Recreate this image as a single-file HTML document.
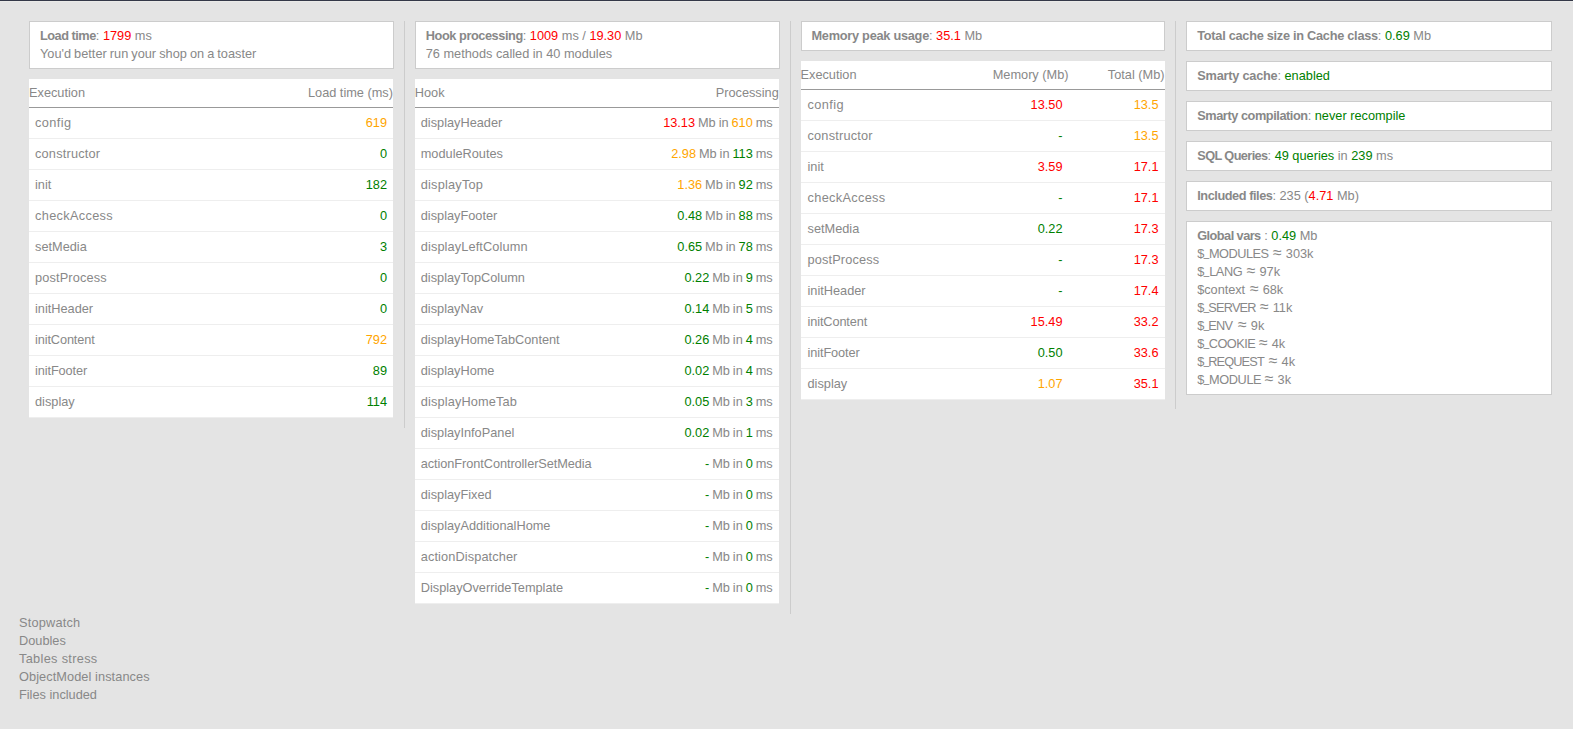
<!DOCTYPE html>
<html><head><meta charset="utf-8">
<style>
html,body{margin:0;padding:0}
body{background:#e4e4e4;width:1573px;height:729px;overflow:hidden;font-family:"Liberation Sans",sans-serif;font-size:12.75px;line-height:18px;color:#888;position:relative}
.t0{position:absolute;left:0;top:0;width:1573px;height:1px;background:#343848}
.t1{position:absolute;left:0;top:1px;width:1573px;height:1px;background:#eaeae8}
#prof{position:absolute;left:19px;top:21px;width:1543px}
.col{float:left;width:25%;padding:0 10px;border-right:1px solid #ccc;box-sizing:border-box}
.col.last{border-right:none}
.box{background:#fff;border:1px solid #ccc;padding:5px 10px;margin-bottom:10px}
table{width:364px;border-collapse:collapse;border-spacing:0;background:#fff;margin-bottom:10px}
th{font-weight:normal;padding:5px 0;border-bottom:1px solid #999;text-align:left;white-space:nowrap}
td{padding:6px 6px;border-bottom:1px solid #eee;white-space:nowrap}
.r{text-align:right}
.ap{font-size:16px;line-height:0;display:inline-block;width:12.8px}
.nm{display:inline-block;white-space:nowrap}
.u{display:inline-block;transform:scaleX(.76);position:relative;top:-2px;margin:0 -0.8px}
.c3 table{margin-bottom:9px}
.c3 td:first-child{padding-left:7px}
.c2 td.r{word-spacing:-0.6px}
.rd{color:#f00}.g{color:#008000}.o{color:#ffa500}
b{font-weight:bold}
ol{list-style:none;margin:0;padding:0;clear:both}
</style></head><body>
<div class="t0"></div><div class="t1"></div>
<div id="prof">
<div class="col">
<div class="box"><b style="letter-spacing:-0.49px">Load time</b>: <span class="rd">1799</span> ms<br><span style="word-spacing:-0.47px">You'd better run your shop on a toaster</span></div>
<table>
<tr><th>Execution</th><th class="r">Load time (ms)</th></tr>
<tr><td><span style="letter-spacing:0.4px">config</span></td><td class="r o">619</td></tr>
<tr><td><span style="letter-spacing:0.2px">constructor</span></td><td class="r g">0</td></tr>
<tr><td>init</td><td class="r g">182</td></tr>
<tr><td><span style="letter-spacing:0.33px">checkAccess</span></td><td class="r g">0</td></tr>
<tr><td>setMedia</td><td class="r g">3</td></tr>
<tr><td><span style="letter-spacing:0.15px">postProcess</span></td><td class="r g">0</td></tr>
<tr><td>initHeader</td><td class="r g">0</td></tr>
<tr><td><span style="letter-spacing:-0.12px">initContent</span></td><td class="r o">792</td></tr>
<tr><td><span style="letter-spacing:-0.1px">initFooter</span></td><td class="r g">89</td></tr>
<tr><td>display</td><td class="r g">114</td></tr>
</table>
</div>
<div class="col c2">
<div class="box"><b style="letter-spacing:-0.43px">Hook processing</b>: <span class="rd">1009</span> ms / <span class="rd">19.30</span> Mb<br>76 methods called in 40 modules</div>
<table>
<tr><th>Hook</th><th class="r">Processing</th></tr>
<tr><td>displayHeader</td><td class="r"><span class="rd">13.13</span> Mb in <span class="o">610</span> ms</td></tr>
<tr><td>moduleRoutes</td><td class="r"><span class="o">2.98</span> Mb in <span class="g">113</span> ms</td></tr>
<tr><td><span style="letter-spacing:0.21px">displayTop</span></td><td class="r"><span class="o">1.36</span> Mb in <span class="g">92</span> ms</td></tr>
<tr><td>displayFooter</td><td class="r"><span class="g">0.48</span> Mb in <span class="g">88</span> ms</td></tr>
<tr><td><span style="letter-spacing:0.12px">displayLeftColumn</span></td><td class="r"><span class="g">0.65</span> Mb in <span class="g">78</span> ms</td></tr>
<tr><td>displayTopColumn</td><td class="r"><span class="g">0.22</span> Mb in <span class="g">9</span> ms</td></tr>
<tr><td>displayNav</td><td class="r"><span class="g">0.14</span> Mb in <span class="g">5</span> ms</td></tr>
<tr><td>displayHomeTabContent</td><td class="r"><span class="g">0.26</span> Mb in <span class="g">4</span> ms</td></tr>
<tr><td>displayHome</td><td class="r"><span class="g">0.02</span> Mb in <span class="g">4</span> ms</td></tr>
<tr><td><span style="letter-spacing:0.14px">displayHomeTab</span></td><td class="r"><span class="g">0.05</span> Mb in <span class="g">3</span> ms</td></tr>
<tr><td>displayInfoPanel</td><td class="r"><span class="g">0.02</span> Mb in <span class="g">1</span> ms</td></tr>
<tr><td><span style="letter-spacing:-0.07px">actionFrontControllerSetMedia</span></td><td class="r"><span class="g">-</span> Mb in <span class="g">0</span> ms</td></tr>
<tr><td>displayFixed</td><td class="r"><span class="g">-</span> Mb in <span class="g">0</span> ms</td></tr>
<tr><td>displayAdditionalHome</td><td class="r"><span class="g">-</span> Mb in <span class="g">0</span> ms</td></tr>
<tr><td><span style="letter-spacing:0.11px">actionDispatcher</span></td><td class="r"><span class="g">-</span> Mb in <span class="g">0</span> ms</td></tr>
<tr><td>DisplayOverrideTemplate</td><td class="r"><span class="g">-</span> Mb in <span class="g">0</span> ms</td></tr>
</table>
</div>
<div class="col c3">
<div class="box"><b style="letter-spacing:-0.26px">Memory peak usage</b>: <span class="rd">35.1</span> Mb</div>
<table>
<colgroup><col><col style="width:124px"><col style="width:96px"></colgroup>
<tr><th>Execution</th><th class="r">Memory (Mb)</th><th class="r">Total (Mb)</th></tr>
<tr><td><span style="letter-spacing:0.4px">config</span></td><td class="r rd">13.50</td><td class="r o">13.5</td></tr>
<tr><td><span style="letter-spacing:0.2px">constructor</span></td><td class="r g">-</td><td class="r o">13.5</td></tr>
<tr><td>init</td><td class="r rd">3.59</td><td class="r rd">17.1</td></tr>
<tr><td><span style="letter-spacing:0.33px">checkAccess</span></td><td class="r g">-</td><td class="r rd">17.1</td></tr>
<tr><td>setMedia</td><td class="r g">0.22</td><td class="r rd">17.3</td></tr>
<tr><td><span style="letter-spacing:0.15px">postProcess</span></td><td class="r g">-</td><td class="r rd">17.3</td></tr>
<tr><td>initHeader</td><td class="r g">-</td><td class="r rd">17.4</td></tr>
<tr><td><span style="letter-spacing:-0.12px">initContent</span></td><td class="r rd">15.49</td><td class="r rd">33.2</td></tr>
<tr><td><span style="letter-spacing:-0.1px">initFooter</span></td><td class="r g">0.50</td><td class="r rd">33.6</td></tr>
<tr><td>display</td><td class="r o">1.07</td><td class="r rd">35.1</td></tr>
</table>
</div>
<div class="col last">
<div class="box"><b style="letter-spacing:-0.27px">Total cache size in Cache class</b>: <span class="g">0.69</span> Mb</div>
<div class="box"><b style="letter-spacing:-0.23px">Smarty cache</b>: <span class="g">enabled</span></div>
<div class="box"><b style="letter-spacing:-0.44px">Smarty compilation</b>: <span class="g">never recompile</span></div>
<div class="box"><b style="letter-spacing:-0.61px">SQL Queries</b>: <span class="g">49 queries</span> in <span class="g">239</span> ms</div>
<div class="box"><b style="letter-spacing:-0.45px">Included files</b>: 235 (<span class="rd">4.71</span> Mb)</div>
<div class="box"><b style="letter-spacing:-0.55px">Global vars</b> : <span class="g">0.49</span> Mb<br><span class="nm" style="width:75.75px;letter-spacing:-0.48px">$<span class="u">_</span>MODULES</span><span class="ap">&asymp;</span>303k<br><span class="nm" style="width:49.45px;letter-spacing:-0.37px">$<span class="u">_</span>LANG</span><span class="ap">&asymp;</span>97k<br><span class="nm" style="width:52.65px;letter-spacing:-0.05px">$context</span><span class="ap">&asymp;</span>68k<br><span class="nm" style="width:62.65px;letter-spacing:-0.79px">$<span class="u">_</span>SERVER</span><span class="ap">&asymp;</span>11k<br><span class="nm" style="width:40.75px;letter-spacing:-0.75px">$<span class="u">_</span>ENV</span><span class="ap">&asymp;</span>9k<br><span class="nm" style="width:61.65px;letter-spacing:-0.54px">$<span class="u">_</span>COOKIE</span><span class="ap">&asymp;</span>4k<br><span class="nm" style="width:71.55px;letter-spacing:-0.85px">$<span class="u">_</span>REQUEST</span><span class="ap">&asymp;</span>4k<br><span class="nm" style="width:67.55px;letter-spacing:-0.4px">$<span class="u">_</span>MODULE</span><span class="ap">&asymp;</span>3k</div>
</div>
<ol>
<li style="letter-spacing:0.2px">Stopwatch</li>
<li>Doubles</li>
<li style="letter-spacing:0.32px">Tables stress</li>
<li style="letter-spacing:0.08px">ObjectModel instances</li>
<li>Files included</li>
</ol>
</div>
</body></html>
